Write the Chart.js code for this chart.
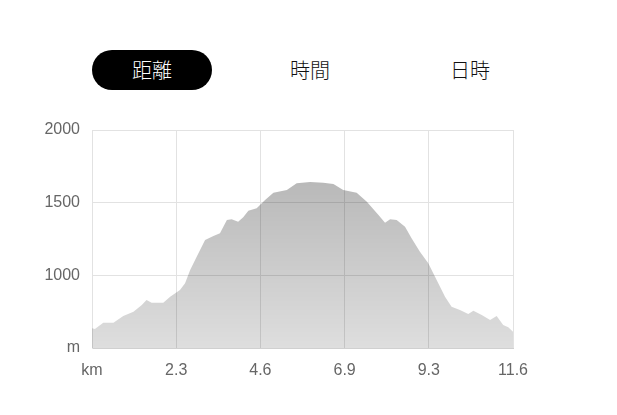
<!DOCTYPE html>
<html lang="ja">
<head>
<meta charset="utf-8">
<script src="https://cdn.jsdelivr.net/npm/chart.js@4"></script>
<style>
    html, body { margin: 0; padding: 0; background: #fff; }
    body { width: 617px; height: 415px; position: relative; overflow: hidden; }
    .tab {
        position: absolute; top: 50px; width: 120px; height: 40px; line-height: 40px;
        border-radius: 20px; text-align: center; font-size: 20px; font-weight: 300;
        font-family: "Noto Sans CJK JP", sans-serif; color: #111;
    }
    .tab.active { background: #000; color: #fff; }
    #wrap { position: absolute; left: 0; top: 0; width: 617px; height: 415px; }
</style>
</head>
<body>
<div class="tab active" style="left:92px">距離</div>
<div class="tab" style="left:250px">時間</div>
<div class="tab" style="left:410px">日時</div>
<div id="wrap"><canvas id="elevChart"></canvas></div>
<script>
// 距離 (km) と標高 (m)
const distances = [0.0, 0.08, 0.31, 0.59, 0.86, 1.14, 1.37, 1.50, 1.64, 1.96, 2.15, 2.42, 2.56, 2.70, 2.88,
    3.11, 3.34, 3.52, 3.71, 3.84, 4.02, 4.16, 4.30, 4.53, 4.76, 4.99, 5.36, 5.63, 6.00, 6.36, 6.64, 6.91,
    7.28, 7.56, 7.88, 8.06, 8.20, 8.38, 8.61, 8.79, 9.02, 9.25, 9.48, 9.71, 9.89, 10.12, 10.35, 10.49,
    10.72, 10.95, 11.13, 11.31, 11.45, 11.58];
const elevations = [636, 630, 674, 674, 720, 750, 796, 830, 812, 812, 853, 899, 945, 1037, 1128,
    1243, 1271, 1289, 1381, 1386, 1369, 1399, 1445, 1461, 1518, 1569, 1587, 1633, 1642, 1637, 1628, 1587,
    1569, 1507, 1415, 1362, 1386, 1381, 1335, 1255, 1163, 1083, 968, 853, 784, 761, 734, 757,
    727, 693, 720, 658, 642, 612];
const totalDistance = 11.58;
const xTickLabels = ['km', '2.3', '4.6', '6.9', '9.3', '11.6'];
const yTickValues = [500, 1000, 1500, 2000];
const yTickLabels = ['m', '1000', '1500', '2000'];

const points = distances.map((d, i) => ({ x: d, y: elevations[i] }));

const config = {
    type: 'line',
    data: {
        datasets: [{
            data: points,
            borderWidth: 0,
            pointRadius: 0,
            fill: 'start',
            backgroundColor: (c) => {
                const area = c.chart.chartArea;
                if (!area) return 'rgba(0,0,0,0.2)';
                const g = c.chart.ctx.createLinearGradient(0, area.top, 0, area.bottom);
                g.addColorStop(0, 'rgba(0,0,0,0.32)');
                g.addColorStop(1, 'rgba(0,0,0,0.13)');
                return g;
            }
        }]
    },
    options: {
        responsive: true,
        maintainAspectRatio: false,
        animation: false,
        layout: { padding: { left: 30, right: 104, top: 130, bottom: 20 } },
        plugins: { legend: { display: false }, tooltip: { enabled: false } },
        scales: {
            x: {
                type: 'linear',
                min: 0,
                max: totalDistance,
                afterBuildTicks: (s) => {
                    s.ticks = xTickLabels.map((_, i) => ({ value: totalDistance * i / 5 }));
                },
                ticks: {
                    callback: (v, i) => xTickLabels[i],
                    color: '#666', padding: 13, maxRotation: 0,
                    font: { family: 'Arial, "Liberation Sans"', size: 16 }
                },
                grid: { color: '#e2e2e2', drawTicks: false },
                border: { color: '#d0d0d0' },
                afterFit: (s) => { s.height = 47; }
            },
            y: {
                min: 500,
                max: 2000,
                afterBuildTicks: (s) => {
                    s.ticks = yTickValues.map(v => ({ value: v }));
                },
                ticks: {
                    callback: (v) => yTickLabels[yTickValues.indexOf(v)],
                    color: '#666', padding: 12,
                    font: { family: 'Arial, "Liberation Sans"', size: 16 }
                },
                grid: { color: '#e2e2e2', drawTicks: false },
                border: { color: '#e2e2e2' },
                afterFit: (s) => { s.width = 62; }
            }
        }
    }
};

window.addEventListener('load', () => {
    const ctx = document.getElementById('elevChart').getContext('2d');
    new Chart(ctx, config);
});
</script>
</body>
</html>
